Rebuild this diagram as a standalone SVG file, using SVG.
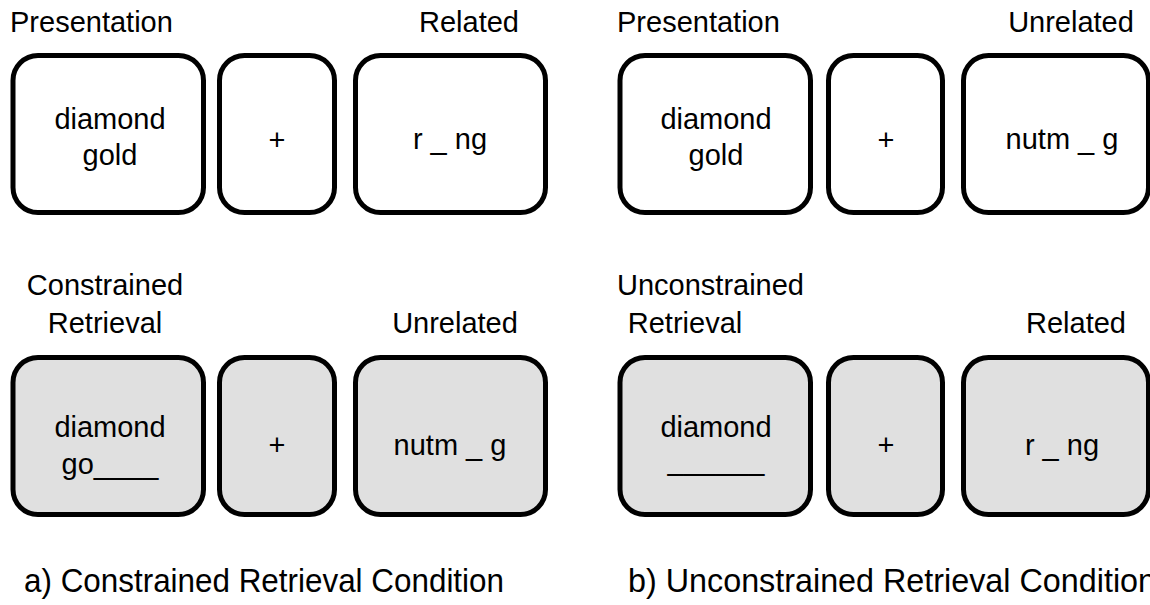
<svg xmlns="http://www.w3.org/2000/svg" width="1150" height="605" viewBox="0 0 1150 605">
  <style>
    .card { fill: #ffffff; stroke: #000000; stroke-width: 5; }
    .card.probe { fill: #e0e0e0; }
    text { font-family: "Liberation Sans", Arial, Helvetica, sans-serif; font-size: 29px; fill: #000000; }
    .mid { text-anchor: middle; }
    .cap { font-size: 33px; }
  </style>

  <!-- Panel a: constrained retrieval -->
  <g id="a-labels">
    <text x="10" y="32">Presentation</text>
    <text x="469" y="32" class="mid">Related</text>
    <text x="105" y="295" class="mid">Constrained</text>
    <text x="105" y="333" class="mid">Retrieval</text>
    <text x="455" y="333" class="mid">Unrelated</text>
  </g>
  <g id="a-study-cue">
    <rect class="card" x="13" y="55.5" width="190.5" height="157" rx="25"/>
    <text x="110" y="129" class="mid">diamond</text>
    <text x="110" y="165" class="mid">gold</text>
  </g>
  <g id="a-study-plus">
    <rect class="card" x="219.5" y="55.5" width="115" height="157" rx="25"/>
    <text x="277" y="150" class="mid">+</text>
  </g>
  <g id="a-study-target">
    <rect class="card" x="355.5" y="55.5" width="190" height="157" rx="25"/>
    <text x="450" y="149" class="mid">r _ ng</text>
  </g>
  <g id="a-test-cue">
    <rect class="card probe" x="13" y="357.5" width="190.5" height="157" rx="25"/>
    <text x="110" y="437" class="mid">diamond</text>
    <text x="110" y="474" class="mid">go____</text>
  </g>
  <g id="a-test-plus">
    <rect class="card probe" x="219.5" y="357.5" width="115" height="157" rx="25"/>
    <text x="277" y="455" class="mid">+</text>
  </g>
  <g id="a-test-target">
    <rect class="card probe" x="355.5" y="357.5" width="190" height="157" rx="25"/>
    <text x="450" y="455" class="mid">nutm _ g</text>
  </g>
  <text x="24" y="592" class="cap" textLength="480" lengthAdjust="spacingAndGlyphs">a) Constrained Retrieval Condition</text>

  <!-- Panel b: unconstrained retrieval -->
  <g id="b-labels">
    <text x="617" y="32">Presentation</text>
    <text x="1071" y="32" class="mid">Unrelated</text>
    <text x="617" y="295">Unconstrained</text>
    <text x="685" y="333" class="mid">Retrieval</text>
    <text x="1076" y="333" class="mid">Related</text>
  </g>
  <g id="b-study-cue">
    <rect class="card" x="620" y="55.5" width="190.5" height="157" rx="25"/>
    <text x="716" y="129" class="mid">diamond</text>
    <text x="716" y="165" class="mid">gold</text>
  </g>
  <g id="b-study-plus">
    <rect class="card" x="828.5" y="55.5" width="114" height="157" rx="25"/>
    <text x="886" y="150" class="mid">+</text>
  </g>
  <g id="b-study-target">
    <rect class="card" x="963.5" y="55.5" width="185" height="157" rx="25"/>
    <text x="1062" y="149" class="mid">nutm _ g</text>
  </g>
  <g id="b-test-cue">
    <rect class="card probe" x="620" y="357.5" width="190.5" height="157" rx="25"/>
    <text x="716" y="437" class="mid">diamond</text>
    <text x="716" y="470" class="mid">______</text>
  </g>
  <g id="b-test-plus">
    <rect class="card probe" x="828.5" y="357.5" width="114" height="157" rx="25"/>
    <text x="886" y="455" class="mid">+</text>
  </g>
  <g id="b-test-target">
    <rect class="card probe" x="963.5" y="357.5" width="185" height="157" rx="25"/>
    <text x="1062" y="455" class="mid">r _ ng</text>
  </g>
  <text x="628" y="592" class="cap" textLength="528" lengthAdjust="spacingAndGlyphs">b) Unconstrained Retrieval Condition</text>

  <!-- no connectors in this figure -->
  <g id="connectors"/>
</svg>
